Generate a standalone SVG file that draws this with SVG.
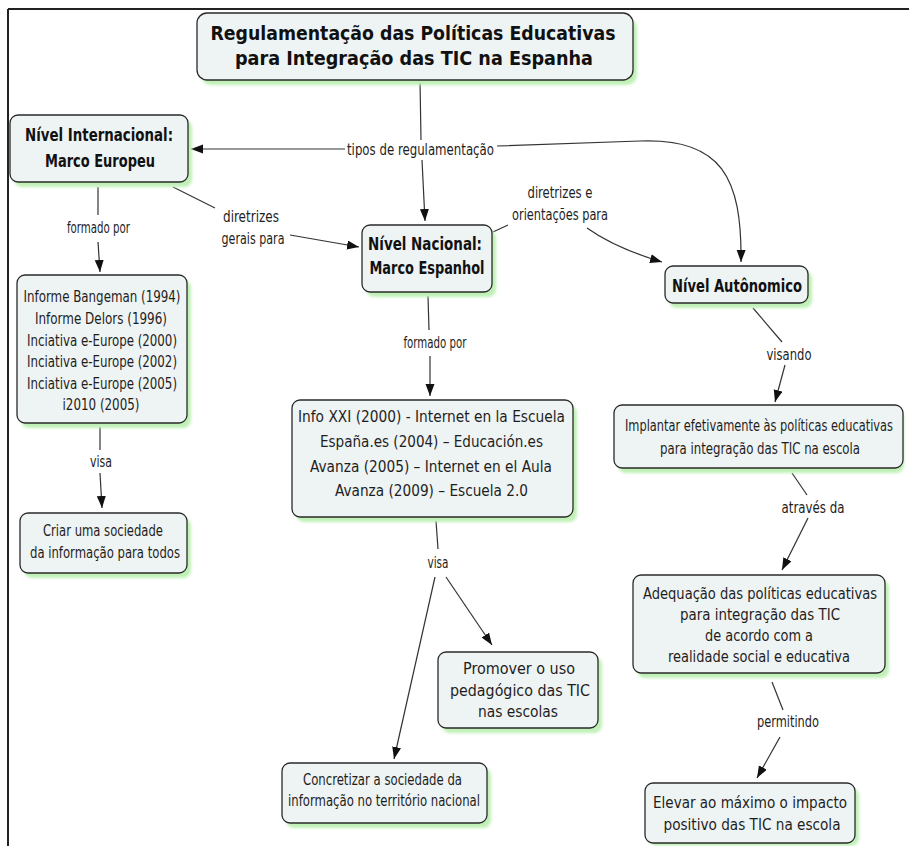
<svg xmlns="http://www.w3.org/2000/svg" width="909" height="846" viewBox="0 0 909 846">
<style>
.box{fill:#eef3f3;stroke:#2a2a2a;stroke-width:1.3}
.sh{fill:#bff0b5;filter:url(#blur)}
.t{font-family:"DejaVu Sans Condensed","DejaVu Sans",sans-serif;font-size:16px;fill:#1e1e1e;text-anchor:middle}
.b{font-family:"DejaVu Sans Condensed","DejaVu Sans",sans-serif;font-size:18px;font-weight:bold;fill:#111;text-anchor:middle}
.h{font-family:"DejaVu Sans","Verdana",sans-serif;font-size:19px;font-weight:bold;fill:#111;text-anchor:middle}
.l{font-family:"DejaVu Sans Condensed","DejaVu Sans",sans-serif;font-size:15px;fill:#1e1e1e;text-anchor:middle}
.c{fill:none;stroke:#333;stroke-width:1.2}
</style>
<defs>
<filter id="blur" x="-10%" y="-10%" width="120%" height="130%"><feGaussianBlur stdDeviation="1.5"/></filter>
<marker id="arr" markerUnits="userSpaceOnUse" markerWidth="13" markerHeight="10" refX="12" refY="4.5" orient="auto"><path d="M0,0 L12,4.5 L0,9 z" fill="#111"/></marker>
</defs>
<rect width="909" height="846" fill="#fff"/>
<path d="M8,9 H909 M8,9 V846" fill="none" stroke="#222" stroke-width="2"/>

<g id="connectors">
<path class="c" d="M420,81 L421,140"/>
<path class="c" d="M345,149 L191,149" marker-end="url(#arr)"/>
<path class="c" d="M422,160 L425,221" marker-end="url(#arr)"/>
<path class="c" d="M497,146 L640,141 C722,138 742,178 741,262" marker-end="url(#arr)"/>
<path class="c" d="M173,187 L215,208"/>
<path class="c" d="M290,235 L359,247" marker-end="url(#arr)"/>
<path class="c" d="M493,232 L508,225"/>
<path class="c" d="M587,228 Q615,248 662,262" marker-end="url(#arr)"/>
<path class="c" d="M98,187 L98,215"/>
<path class="c" d="M98,242 L100,272" marker-end="url(#arr)"/>
<path class="c" d="M100,427 L100,450"/>
<path class="c" d="M100,473 L102,508" marker-end="url(#arr)"/>
<path class="c" d="M428,296 L429,330"/>
<path class="c" d="M430,356 L430,396" marker-end="url(#arr)"/>
<path class="c" d="M436,521 L438,549"/>
<path class="c" d="M435,577 L394,759" marker-end="url(#arr)"/>
<path class="c" d="M446,577 L492,645" marker-end="url(#arr)"/>
<path class="c" d="M753,308 L782,342"/>
<path class="c" d="M785,365 L775,402" marker-end="url(#arr)"/>
<path class="c" d="M792,473 L807,495"/>
<path class="c" d="M808,518 L782,570" marker-end="url(#arr)"/>
<path class="c" d="M772,682 L783,710"/>
<path class="c" d="M780,737 L757,778" marker-end="url(#arr)"/>
</g>

<g id="labels">
<text class="l" x="420.5" y="155" textLength="147" lengthAdjust="spacingAndGlyphs">tipos de regulamentação</text>
<text class="l" x="251" y="222" textLength="56" lengthAdjust="spacingAndGlyphs">diretrizes</text>
<text class="l" x="253" y="244" textLength="63" lengthAdjust="spacingAndGlyphs">gerais para</text>
<text class="l" x="560" y="198" textLength="65" lengthAdjust="spacingAndGlyphs">diretrizes e</text>
<text class="l" x="560" y="220" textLength="96" lengthAdjust="spacingAndGlyphs">orientações para</text>
<text class="l" x="98.5" y="233" textLength="63" lengthAdjust="spacingAndGlyphs">formado por</text>
<text class="l" x="435" y="348" textLength="63" lengthAdjust="spacingAndGlyphs">formado por</text>
<text class="l" x="101" y="467" textLength="22" lengthAdjust="spacingAndGlyphs">visa</text>
<text class="l" x="438" y="568" textLength="21" lengthAdjust="spacingAndGlyphs">visa</text>
<text class="l" x="789" y="360" textLength="45" lengthAdjust="spacingAndGlyphs">visando</text>
<text class="l" x="813" y="513" textLength="63" lengthAdjust="spacingAndGlyphs">através da</text>
<text class="l" x="788" y="727" textLength="62" lengthAdjust="spacingAndGlyphs">permitindo</text>
</g>

<g id="title">
<rect class="sh" x="201" y="18" width="436" height="67" rx="10"/>
<rect class="box" x="197" y="13" width="436" height="67" rx="10"/>
<text class="h" x="413" y="40" textLength="405" lengthAdjust="spacingAndGlyphs">Regulamentação das Políticas Educativas</text>
<text class="h" x="414" y="65" textLength="358" lengthAdjust="spacingAndGlyphs">para Integração das TIC na Espanha</text>
</g>

<g id="internacional">
<rect class="sh" x="14" y="120" width="178" height="67" rx="8"/>
<rect class="box" x="10" y="115" width="178" height="67" rx="8"/>
<text class="b" x="99" y="141" textLength="148" lengthAdjust="spacingAndGlyphs">Nível Internacional:</text>
<text class="b" x="100" y="167" textLength="110" lengthAdjust="spacingAndGlyphs">Marco Europeu</text>
</g>

<g id="nacional">
<rect class="sh" x="366" y="230" width="130" height="67" rx="8"/>
<rect class="box" x="362" y="225" width="130" height="67" rx="8"/>
<text class="b" x="425" y="250" textLength="114" lengthAdjust="spacingAndGlyphs">Nível Nacional:</text>
<text class="b" x="427" y="274" textLength="115" lengthAdjust="spacingAndGlyphs">Marco Espanhol</text>
</g>

<g id="autonomico">
<rect class="sh" x="669" y="271" width="143" height="37" rx="8"/>
<rect class="box" x="665" y="266" width="143" height="37" rx="8"/>
<text class="b" x="737" y="292" textLength="130" lengthAdjust="spacingAndGlyphs">Nível Autônomico</text>
</g>

<g id="informes">
<rect class="sh" x="21" y="280" width="170" height="148" rx="8"/>
<rect class="box" x="17" y="275" width="170" height="148" rx="8"/>
<text class="t" x="102" y="302" textLength="157" lengthAdjust="spacingAndGlyphs">Informe Bangeman (1994)</text>
<text class="t" x="101" y="324" textLength="132" lengthAdjust="spacingAndGlyphs">Informe Delors (1996)</text>
<text class="t" x="102" y="346" textLength="150" lengthAdjust="spacingAndGlyphs">Inciativa e-Europe (2000)</text>
<text class="t" x="102" y="367" textLength="150" lengthAdjust="spacingAndGlyphs">Inciativa e-Europe (2002)</text>
<text class="t" x="102" y="389" textLength="150" lengthAdjust="spacingAndGlyphs">Inciativa e-Europe (2005)</text>
<text class="t" x="101" y="410" textLength="77" lengthAdjust="spacingAndGlyphs">i2010 (2005)</text>
</g>

<g id="criar">
<rect class="sh" x="24" y="518" width="167" height="60" rx="8"/>
<rect class="box" x="20" y="513" width="167" height="60" rx="8"/>
<text class="t" x="103" y="536" textLength="120" lengthAdjust="spacingAndGlyphs">Criar uma sociedade</text>
<text class="t" x="105" y="558" textLength="150" lengthAdjust="spacingAndGlyphs">da informação para todos</text>
</g>

<g id="info">
<rect class="sh" x="296" y="405" width="281" height="117" rx="8"/>
<rect class="box" x="292" y="400" width="281" height="117" rx="8"/>
<text class="t" x="431.5" y="422" textLength="267" lengthAdjust="spacingAndGlyphs">Info XXI (2000) - Internet en la Escuela</text>
<text class="t" x="431.5" y="447" textLength="223" lengthAdjust="spacingAndGlyphs">España.es (2004) – Educación.es</text>
<text class="t" x="431" y="472" textLength="242" lengthAdjust="spacingAndGlyphs">Avanza (2005) – Internet en el Aula</text>
<text class="t" x="431.5" y="496" textLength="193" lengthAdjust="spacingAndGlyphs">Avanza (2009) – Escuela 2.0</text>
</g>

<g id="promover">
<rect class="sh" x="442" y="657" width="160" height="76" rx="8"/>
<rect class="box" x="438" y="652" width="160" height="76" rx="8"/>
<text class="t" x="519" y="674" textLength="112" lengthAdjust="spacingAndGlyphs">Promover o uso</text>
<text class="t" x="520" y="696" textLength="140" lengthAdjust="spacingAndGlyphs">pedagógico das TIC</text>
<text class="t" x="518" y="717" textLength="80" lengthAdjust="spacingAndGlyphs">nas escolas</text>
</g>

<g id="concretizar">
<rect class="sh" x="286" y="768" width="205" height="60" rx="8"/>
<rect class="box" x="282" y="763" width="205" height="60" rx="8"/>
<text class="t" x="382.5" y="785" textLength="159" lengthAdjust="spacingAndGlyphs">Concretizar a sociedade da</text>
<text class="t" x="384" y="806" textLength="192" lengthAdjust="spacingAndGlyphs">informação no território nacional</text>
</g>

<g id="implantar">
<rect class="sh" x="618" y="410" width="286" height="63" rx="8"/>
<rect class="box" x="614" y="405" width="289" height="63" rx="8"/>
<text class="t" x="893" y="431" font-size="15" style="text-anchor:end" textLength="268" lengthAdjust="spacingAndGlyphs">Implantar efetivamente às políticas educativas</text>
<text class="t" x="760" y="454" textLength="200" lengthAdjust="spacingAndGlyphs">para integração das TIC na escola</text>
</g>

<g id="adequacao">
<rect class="sh" x="637" y="580" width="252" height="98" rx="8"/>
<rect class="box" x="633" y="575" width="252" height="98" rx="8"/>
<text class="t" x="760" y="599" textLength="234" lengthAdjust="spacingAndGlyphs">Adequação das políticas educativas</text>
<text class="t" x="760" y="620" textLength="160" lengthAdjust="spacingAndGlyphs">para integração das TIC</text>
<text class="t" x="759" y="641" textLength="108" lengthAdjust="spacingAndGlyphs">de acordo com a</text>
<text class="t" x="759" y="662" textLength="182" lengthAdjust="spacingAndGlyphs">realidade social e educativa</text>
</g>

<g id="elevar">
<rect class="sh" x="649" y="788" width="210" height="58" rx="8"/>
<rect class="box" x="645" y="783" width="210" height="60" rx="8"/>
<text class="t" x="750" y="808" textLength="194" lengthAdjust="spacingAndGlyphs">Elevar ao máximo o impacto</text>
<text class="t" x="752" y="830" textLength="177" lengthAdjust="spacingAndGlyphs">positivo das TIC na escola</text>
</g>
</svg>
